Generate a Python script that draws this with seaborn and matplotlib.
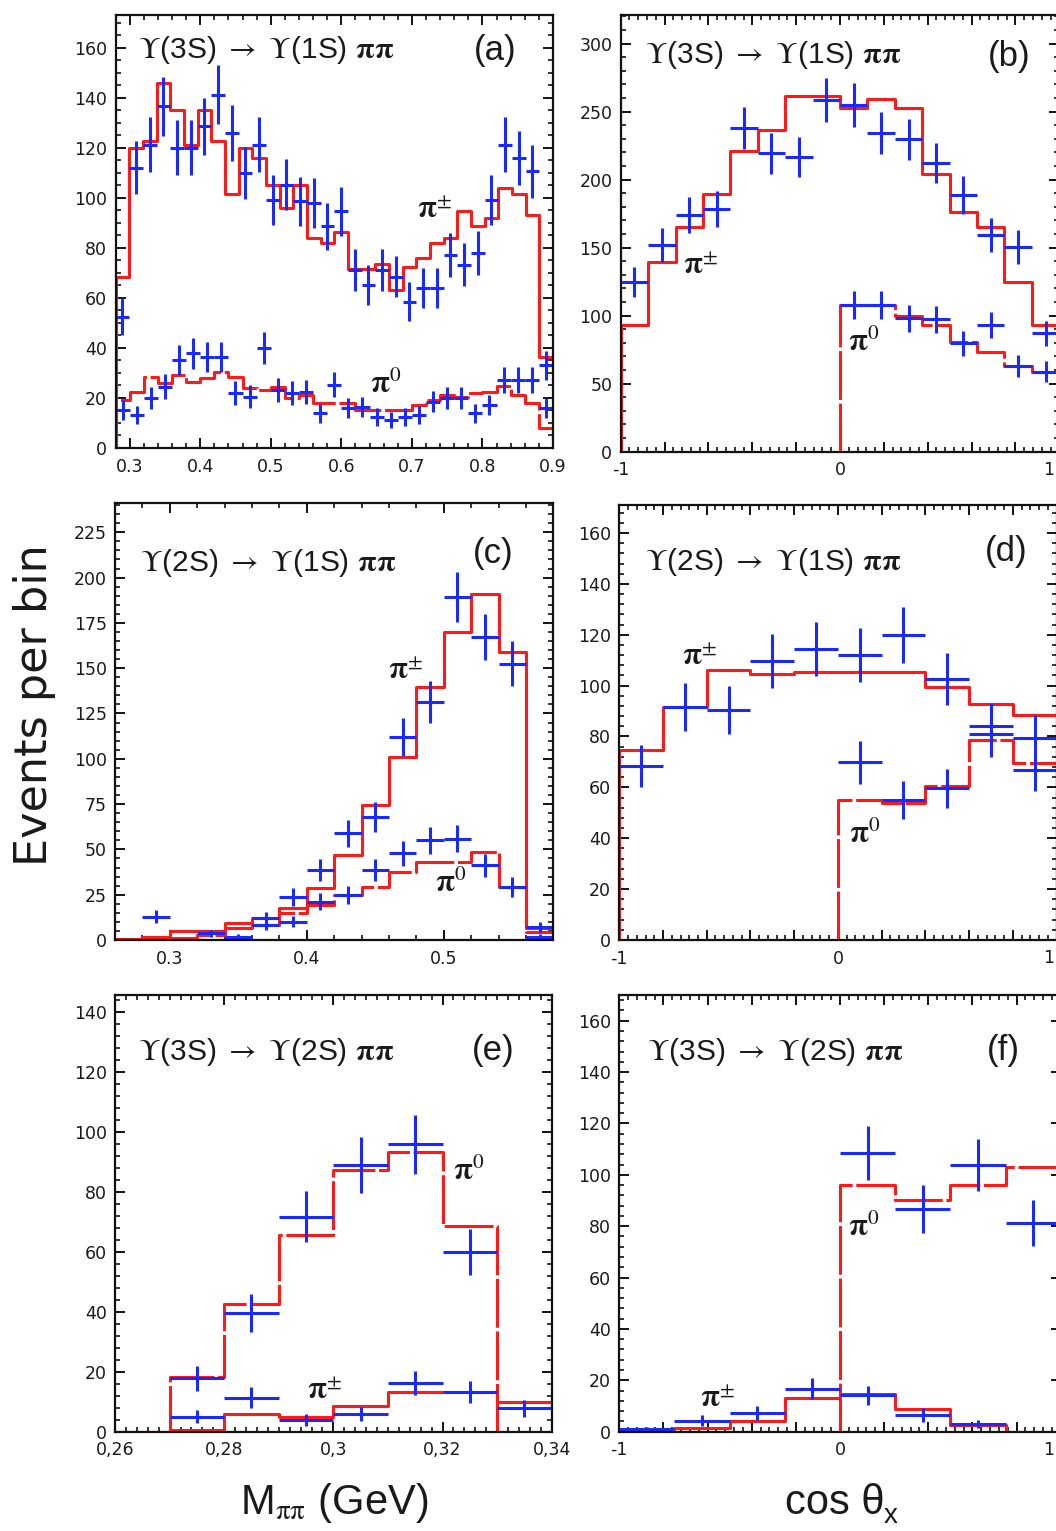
import numpy as np
import pandas as pd
import matplotlib
matplotlib.use("Agg")
import matplotlib.pyplot as plt
from matplotlib.ticker import MultipleLocator, FixedLocator, FixedFormatter
import seaborn as sns

# ---------------- data ----------------
# (a) M_pipi, Y(3S)->Y(1S)pipi
a_pm_range = (0.28, 0.90)
a_pm_nbins = 32
a_pm_data = [52.5, 111.9, 121.2, 136.5, 119.9, 119.9, 128.5, 141.2, 125.9, 109.9, 121.2,
             99.2, 105.2, 98.5, 97.9, 88.5, 94.5, 71.2, 65.2, 71.2, 68.5, 58.5, 63.9, 63.9,
             77.2, 73.2, 77.9, 99.2, 121.2, 115.9, 110.5, 33.0]
a_pm_fit = [68.5, 119.9, 122.5, 145.9, 135.2, 121.2, 135.2, 122.5, 101.6, 119.9, 115.9,
            105.2, 95.9, 105.2, 83.9, 81.9, 86.5, 71.5, 71.5, 73.6, 63.2, 72.5, 75.9, 81.9,
            83.9, 94.5, 88.8, 91.9, 103.9, 101.6, 93.2, 36.5]
a_p0_range = (0.28, 0.90)
a_p0_nbins = 31
a_p0_data = [15.2, 13.2, 19.9, 24.5, 35.2, 37.9, 36.5, 36.5, 21.9, 20.5, 39.9, 23.2, 21.9,
             22.5, 13.9, 25.2, 15.9, 16.5, 12.5, 11.2, 12.5, 13.2, 18.5, 19.9, 19.9, 13.9,
             17.2, 27.2, 27.2, 27.2, 15.9]
a_p0_fit = [19.2, 22.5, 28.3, 26.0, 29.2, 26.5, 27.9, 30.5, 28.3, 24.0, 23.2, 24.5, 19.9,
            21.2, 17.9, 17.9, 17.9, 15.2, 15.2, 15.2, 15.2, 17.2, 19.2, 21.2, 20.5, 22.1,
            22.5, 24.8, 21.2, 17.9, 7.9]

# (b) cos theta_X, Y(3S)->Y(1S)pipi
b_pm_range = (-1.0, 1.0)
b_pm_nbins = 16
b_pm_data = [124.9, 151.8, 173.9, 178.3, 237.6, 219.2, 216.7, 258.4, 254.7, 234.4, 229.5,
             212.3, 188.6, 159.2, 150.6, 86.9]
b_pm_fit = [93.1, 139.6, 165.3, 189.1, 220.9, 236.3, 261.3, 261.3, 253.0, 259.6, 253.0,
            204.0, 176.3, 165.3, 124.9, 93.1]
b_p0_range = (0.0, 1.0)
b_p0_nbins = 8
b_p0_data = [107.8, 107.8, 98.0, 97.2, 79.6, 93.1, 62.9, 58.8]
b_p0_fit = [107.8, 107.8, 99.7, 93.1, 80.8, 73.5, 62.9, 58.8]

# (c) M_pipi, Y(2S)->Y(1S)pipi
c_range = (0.26, 0.58)
c_nbins = 16
c_pm_data = [np.nan, 12.9, np.nan, 3.7, np.nan, 11.9, 23.9, 38.6, 58.8, 68.0, 112.0, 131.3,
             189.2, 167.2, 152.5, 7.3]
c_pm_fit = [0.5, 1.5, 5.0, 5.0, 9.6, 11.9, 17.5, 28.5, 46.8, 74.4, 101.0, 139.6, 169.9,
            191.0, 158.9, 6.4]
c_p0_data = [np.nan, np.nan, np.nan, np.nan, 1.8, 8.3, 10.1, 21.1, 24.8, 38.6, 47.8, 55.1,
             56.0, 41.3, 29.4, 1.8]
c_p0_fit = [0.0, 1.0, 1.0, 3.0, 6.4, 8.3, 14.7, 19.3, 24.8, 29.4, 37.7, 43.2, 43.2, 48.7,
            29.4, 4.6]

# (d) cos theta_X, Y(2S)->Y(1S)pipi
d_pm_range = (-1.0, 1.0)
d_pm_nbins = 10
d_pm_data = [68.5, 91.6, 90.3, 109.7, 114.5, 111.9, 120.0, 102.7, 84.0, 79.6]
d_pm_fit = [74.6, 91.4, 106.0, 104.7, 105.4, 105.4, 105.4, 99.5, 92.7, 88.4]
d_p0_range = (0.0, 1.0)
d_p0_nbins = 5
d_p0_data = [69.8, 55.0, 59.6, 81.0, 66.8]
d_p0_fit = [55.0, 53.7, 60.5, 78.8, 69.4]

# (e) M_pipi, Y(3S)->Y(2S)pipi
e_range = (0.26, 0.34)
e_nbins = 8
e_p0_data = [np.nan, 17.8, 39.7, 71.7, 88.9, 95.8, 60.0, np.nan]
e_p0_fit = [0.0, 18.3, 42.6, 65.6, 87.2, 93.1, 68.7, 0.0]
e_pm_data = [np.nan, 5.0, 11.4, 3.9, 5.9, 16.1, 13.3, 7.8]
e_pm_fit = [0.0, 0.5, 5.9, 4.8, 8.6, 13.3, 13.3, 9.8]

# (f) cos theta_X, Y(3S)->Y(2S)pipi
f_pm_range = (-1.0, 1.0)
f_pm_nbins = 8
f_pm_data = [0.9, 4.3, 7.4, 16.8, 14.2, 6.5, 3.0, np.nan]
f_pm_fit = [0.4, 1.3, 4.3, 13.3, 14.5, 8.8, 2.6, 0.0]
f_p0_range = (0.0, 1.0)
f_p0_nbins = 4
f_p0_data = [108.4, 86.8, 103.9, 81.2]
f_p0_fit = [95.9, 90.3, 95.9, 103.0]

titles = [r"$\Upsilon$(3S) $\rightarrow$ $\Upsilon$(1S) $\mathbf{\pi\pi}$",
          r"$\Upsilon$(3S) $\rightarrow$ $\Upsilon$(1S) $\mathbf{\pi\pi}$",
          r"$\Upsilon$(2S) $\rightarrow$ $\Upsilon$(1S) $\mathbf{\pi\pi}$",
          r"$\Upsilon$(2S) $\rightarrow$ $\Upsilon$(1S) $\mathbf{\pi\pi}$",
          r"$\Upsilon$(3S) $\rightarrow$ $\Upsilon$(2S) $\mathbf{\pi\pi}$",
          r"$\Upsilon$(3S) $\rightarrow$ $\Upsilon$(2S) $\mathbf{\pi\pi}$"]
tags = ["(a)", "(b)", "(c)", "(d)", "(e)", "(f)"]
e_xticks = [0.26, 0.28, 0.30, 0.32, 0.34]
e_xticklabels = ["0,26", "0,28", "0,3", "0,32", "0,34"]
cos_major = [-1, -0.8, -0.6, -0.4, -0.2, 0, 0.2, 0.4, 0.6, 0.8, 1]
cos_labels = ["-1", "", "", "", "", "0", "", "", "", "", ""]

# ---------------- style ----------------
sns.set_theme(style="ticks")
plt.rcParams.update({
    "font.family": ["DejaVu Sans"],
    "mathtext.fontset": "stix",
    "axes.linewidth": 1.6,
    "axes.edgecolor": "#111111",
    "xtick.direction": "in", "ytick.direction": "in",
    "xtick.top": True, "ytick.right": True,
    "xtick.major.size": 7.5, "ytick.major.size": 7.5,
    "xtick.minor.size": 3.8, "ytick.minor.size": 3.8,
    "xtick.major.width": 1.4, "ytick.major.width": 1.4,
    "xtick.minor.width": 1.2, "ytick.minor.width": 1.2,
    "xtick.color": "#111111", "ytick.color": "#111111",
    "xtick.labelsize": 12.5, "ytick.labelsize": 12.5,
    "xtick.major.pad": 7, "ytick.major.pad": 6,
})

RED = "#ff1a1a"
BLUE = "#1a2aff"
TXT = "#1a1a1a"
DASH = (0, (16, 1.2))

W, H = 1056, 1531
fig = plt.figure(figsize=(W / 100, H / 100), dpi=100, facecolor="white")


def add_ax(l, r, t, b):
    return fig.add_axes([l / W, 1 - b / H, (r - l) / W, (b - t) / H])


def edges_of(rng, n):
    return np.linspace(rng[0], rng[1], n + 1)


def fit_hist(ax, rng, n, vals, dashed=False):
    e = edges_of(rng, n)
    v = np.asarray(vals, float)
    xs = np.concatenate([[e[0]], e[:-1], [e[-1]], [e[-1]]])
    ys = np.concatenate([[0.0], v, [v[-1]], [0.0]])
    df = pd.DataFrame({"x": xs, "y": ys})
    kw = dict(linestyle=DASH) if dashed else {}
    sns.lineplot(data=df, x="x", y="y", sort=False, estimator=None,
                 drawstyle="steps-post", color=RED, linewidth=2.2, ax=ax,
                 zorder=3, **kw)


def data_pts(ax, rng, n, vals):
    e = edges_of(rng, n)
    c = 0.5 * (e[:-1] + e[1:])
    v = np.asarray(vals, float)
    m = ~np.isnan(v)
    ax.errorbar(c[m], v[m], xerr=0.5 * (e[1] - e[0]), yerr=np.sqrt(v[m]),
                fmt="none", ecolor=BLUE, elinewidth=2.2, capsize=0, zorder=4)


def decorate(ax, xlim, ylim, xmin, ymaj, ymin, title, tag, tpos, gpos):
    ax.set_xlim(*xlim)
    ax.set_ylim(*ylim)
    ax.xaxis.set_minor_locator(MultipleLocator(xmin))
    ax.yaxis.set_major_locator(MultipleLocator(ymaj))
    ax.yaxis.set_minor_locator(MultipleLocator(ymin))
    ax.tick_params(which="both", direction="in", top=True, right=True,
                   labelcolor=TXT)
    ax.set_xlabel("")
    ax.set_ylabel("")
    ax.set_facecolor("white")
    for s in ax.spines.values():
        s.set_visible(True)
        s.set_linewidth(1.6)
        s.set_color("#111111")
        s.set_zorder(5)
    ax.text(tpos[0], tpos[1], title, transform=ax.transAxes, ha="left",
            va="center", fontsize=21.5, color=TXT, family="Liberation Sans")
    ax.text(gpos[0], gpos[1], tag, transform=ax.transAxes, ha="center",
            va="center", fontsize=25, color=TXT, family="Liberation Sans")


def cos_axis(ax):
    ax.xaxis.set_major_locator(FixedLocator(cos_major))
    ax.xaxis.set_major_formatter(FixedFormatter(cos_labels))
    # the "1" label sits at the (clipped) right border, kept inside the picture
    ax.annotate("1", xy=(1054 / W, 0), xycoords=("figure fraction", "axes fraction"),
                xytext=(0, -6.5), textcoords="offset points", ha="right",
                va="top", fontsize=12.5, color=TXT, annotation_clip=False)


def lab(ax, x, y, s):
    ax.text(x, y, s, ha="left", va="center", fontsize=22, color=TXT, zorder=6)


PM = r"$\mathbf{\pi}^{\pm}$"
P0 = r"$\mathbf{\pi}^{0}$"

# (a)
ax = add_ax(115.5, 553, 15, 448)
fit_hist(ax, a_pm_range, a_pm_nbins, a_pm_fit)
fit_hist(ax, a_p0_range, a_p0_nbins, a_p0_fit, dashed=True)
data_pts(ax, a_pm_range, a_pm_nbins, a_pm_data)
data_pts(ax, a_p0_range, a_p0_nbins, a_p0_data)
ax.xaxis.set_major_locator(FixedLocator([0.3, 0.4, 0.5, 0.6, 0.7, 0.8, 0.9]))
ax.xaxis.set_major_formatter(FixedFormatter(["0.3", "0.4", "0.5", "0.6", "0.7", "0.8", "0.9"]))
decorate(ax, (0.28, 0.90), (0, 173), 0.02, 20, 5, titles[0], tags[0],
         (0.051, 0.919), (0.867, 0.919))
lab(ax, 0.707, 95, PM)
lab(ax, 0.641, 25.5, P0)

# (b)
ax = add_ax(620.7, 1059.3, 15, 451.7)
fit_hist(ax, b_pm_range, b_pm_nbins, b_pm_fit)
fit_hist(ax, b_p0_range, b_p0_nbins, b_p0_fit, dashed=True)
data_pts(ax, b_pm_range, b_pm_nbins, b_pm_data)
data_pts(ax, b_p0_range, b_p0_nbins, b_p0_data)
cos_axis(ax)
decorate(ax, (-1, 1), (0, 321), 0.04, 50, 10, titles[1], tags[1],
         (0.056, 0.908), (0.886, 0.905))
lab(ax, -0.714, 136, PM)
lab(ax, 0.038, 80, P0)

# (c)
ax = add_ax(115, 553.3, 503.3, 940)
fit_hist(ax, c_range, c_nbins, c_pm_fit)
fit_hist(ax, c_range, c_nbins, c_p0_fit, dashed=True)
data_pts(ax, c_range, c_nbins, c_pm_data)
data_pts(ax, c_range, c_nbins, c_p0_data)
ax.xaxis.set_major_locator(FixedLocator([0.3, 0.4, 0.5]))
ax.xaxis.set_major_formatter(FixedFormatter(["0.3", "0.4", "0.5"]))
decorate(ax, (0.26, 0.58), (0, 241), 0.02, 25, 5, titles[2], tags[2],
         (0.056, 0.863), (0.862, 0.886))
lab(ax, 0.4595, 148.4, PM)
lab(ax, 0.4936, 31.4, P0)

# (d)
ax = add_ax(619.3, 1056.5, 505, 940)
fit_hist(ax, d_pm_range, d_pm_nbins, d_pm_fit)
fit_hist(ax, d_p0_range, d_p0_nbins, d_p0_fit, dashed=True)
data_pts(ax, d_pm_range, d_pm_nbins, d_pm_data)
data_pts(ax, d_p0_range, d_p0_nbins, d_p0_data)
cos_axis(ax)
decorate(ax, (-1, 1), (0, 171), 0.04, 20, 4, titles[3], tags[3],
         (0.059, 0.870), (0.884, 0.893))
lab(ax, -0.714, 111.2, PM)
lab(ax, 0.05, 41.6, P0)

# (e)
ax = add_ax(115, 551.7, 995, 1431.7)
fit_hist(ax, e_range, e_nbins, e_p0_fit, dashed=True)
fit_hist(ax, e_range, e_nbins, e_pm_fit)
data_pts(ax, e_range, e_nbins, e_p0_data)
data_pts(ax, e_range, e_nbins, e_pm_data)
ax.xaxis.set_major_locator(FixedLocator(e_xticks))
ax.xaxis.set_major_formatter(FixedFormatter(e_xticklabels))
decorate(ax, (0.26, 0.34), (0, 145.6), 0.002, 20, 4, titles[4], tags[4],
         (0.053, 0.870), (0.866, 0.874))
lab(ax, 0.3220, 86.7, P0)
lab(ax, 0.2951, 13.6, PM)

# (f)
ax = add_ax(619.3, 1060.7, 995, 1431.7)
fit_hist(ax, f_pm_range, f_pm_nbins, f_pm_fit)
fit_hist(ax, f_p0_range, f_p0_nbins, f_p0_fit, dashed=True)
data_pts(ax, f_pm_range, f_pm_nbins, f_pm_data)
data_pts(ax, f_p0_range, f_p0_nbins, f_p0_data)
cos_axis(ax)
decorate(ax, (-1, 1), (0, 170), 0.04, 20, 4, titles[5], tags[5],
         (0.062, 0.870), (0.869, 0.874))
lab(ax, 0.038, 79.6, P0)
lab(ax, -0.634, 12.7, PM)

# global axis labels
fig.text(35 / W, 1 - 705 / H, "Events per bin", rotation=90, ha="center",
         va="center", fontsize=32, color=TXT, family="DejaVu Sans")
fig.text(334 / W, 1 - 1503 / H, r"M$_{\mathrm{\pi\pi}}$ (GeV)", ha="center",
         va="center", fontsize=30, color=TXT, family="Liberation Sans")
fig.text(785 / W, 1 - 1503 / H, "cos θ", ha="left", va="center",
         fontsize=30, color=TXT, family="Liberation Sans")
fig.text(884 / W, 1 - 1516 / H, "x", ha="left", va="center",
         fontsize=20, color=TXT, family="Liberation Sans")

fig.savefig("out.png", dpi=100, facecolor="white")
